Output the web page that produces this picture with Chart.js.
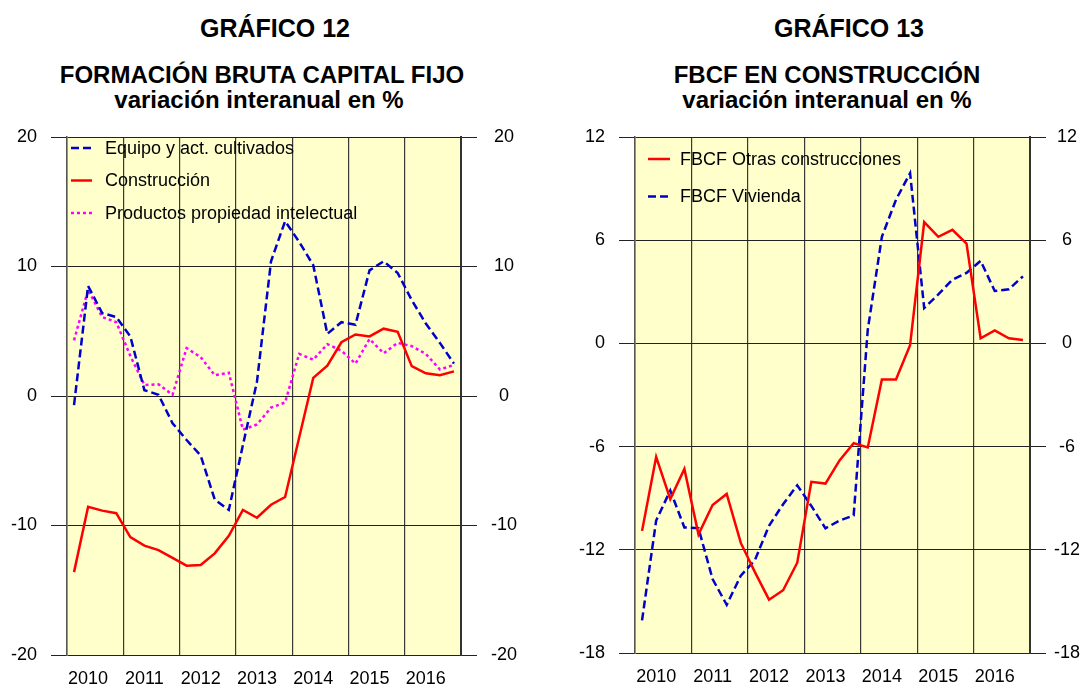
<!DOCTYPE html>
<html lang="es">
<head>
<meta charset="utf-8">
<title>Gráficos 12 y 13 - FBCF</title>
<script src="https://cdn.jsdelivr.net/npm/chart.js@4.4.1/dist/chart.umd.min.js"></script>
<style>
  html, body { margin: 0; padding: 0; background: #fff; }
  body { width: 1089px; height: 689px; position: relative; overflow: hidden;
         font-family: 'Liberation Sans', Arial, sans-serif; }
  .caja { position: absolute; top: 0; height: 689px; }
  #caja12 { left: 0; width: 545px; }
  #caja13 { left: 545px; width: 544px; }
  .linea { position: absolute; width: 600px; text-align: center; font-weight: bold;
           color: #000; white-space: nowrap; }
  .grande { font-size: 25px; line-height: 25px; }
  .media { font-size: 24px; line-height: 24px; }
</style>
</head>
<body>

<div class="linea grande" style="left:-25px; top:16px;">GRÁFICO 12</div>
<div class="linea media" style="left:-38px; top:63px;">FORMACIÓN BRUTA CAPITAL FIJO</div>
<div class="linea media" style="left:-41px; top:88px;">variación interanual en %</div>

<div class="linea grande" style="left:549px; top:16px;">GRÁFICO 13</div>
<div class="linea media" style="left:527px; top:63px;">FBCF EN CONSTRUCCIÓN</div>
<div class="linea media" style="left:527px; top:88px;">variación interanual en %</div>

<div class="caja" id="caja12"><canvas id="graf12"></canvas></div>
<div class="caja" id="caja13"><canvas id="graf13"></canvas></div>

<script>
// años y trimestres (2010 T1 - 2016 T4)
var anios = ['2010', '2011', '2012', '2013', '2014', '2015', '2016'];
var trimestres = [];
anios.forEach(function (a) {
  ['I', 'II', 'III', 'IV'].forEach(function (q) { trimestres.push(a + ' ' + q); });
});

// Gráfico 12: FBCF, variación interanual en %
var equipo = [-0.7, 8.5, 6.4, 6.1, 4.6, 0.45, 0.1, -2.1, -3.4, -4.6, -8.0, -8.8,
              -3.8, 1.1, 10.4, 13.5, 11.9, 10.1, 4.8, 5.7, 5.5, 9.7, 10.4, 9.5,
              7.4, 5.6, 4.1, 2.5];
var construccion = [-13.6, -8.55, -8.85, -9.05, -10.9, -11.55, -11.9, -12.5, -13.1, -13.05, -12.15, -10.8,
                    -8.8, -9.4, -8.4, -7.8, -3.2, 1.4, 2.35, 4.15, 4.75, 4.6, 5.2, 4.95,
                    2.3, 1.75, 1.6, 1.9];
var intelectual = [4.3, 8.2, 6.1, 5.7, 3.1, 0.85, 0.9, 0.1, 3.7, 3.0, 1.6, 1.8,
                   -2.6, -2.2, -0.9, -0.5, 3.25, 2.8, 4.0, 3.5, 2.5, 4.4, 3.3, 4.1,
                   3.85, 3.25, 2.05, 2.4];
var ticks12 = { min: -20, max: 20, paso: 10 };

// Gráfico 13: FBCF en construcción
var otrasConstr = [-10.9, -6.6, -9.05, -7.3, -11.1, -9.4, -8.75, -11.6, -13.3, -14.9, -14.35, -12.75,
                   -8.05, -8.15, -6.8, -5.8, -6.05, -2.1, -2.1, -0.1, 7.05, 6.2, 6.6, 5.8,
                   0.3, 0.75, 0.3, 0.2];
var vivienda = [-16.1, -10.3, -8.55, -10.7, -10.75, -13.7, -15.2, -13.5, -12.6, -10.6, -9.35, -8.25,
                -9.45, -10.75, -10.3, -10.0, 0.8, 6.2, 8.35, 9.9, 2.05, 2.85, 3.7, 4.1,
                4.8, 3.05, 3.15, 3.9];
var ticks13 = { min: -18, max: 12, paso: 6 };

var FUENTE = "'Liberation Sans', Arial, sans-serif";

// fondo amarillo del area de trazado
var fondoAmarillo = {
  id: 'fondoAmarillo',
  beforeDraw: function (chart) {
    var a = chart.chartArea, ctx = chart.ctx;
    ctx.save();
    ctx.fillStyle = '#FFFFCC';
    ctx.fillRect(a.left, a.top, a.right - a.left, a.bottom - a.top);
    ctx.restore();
  }
};

// leyenda dentro del grafico, arriba a la izquierda
var leyendaInterior = {
  id: 'leyendaInterior',
  afterDatasetsDraw: function (chart, args, opts) {
    var ctx = chart.ctx;
    ctx.save();
    chart.data.datasets.forEach(function (ds, i) {
      var y = opts.y + i * opts.salto;
      ctx.strokeStyle = ds.borderColor;
      ctx.lineWidth = ds.borderWidth;
      ctx.setLineDash(ds.borderDash || []);
      ctx.beginPath();
      ctx.moveTo(opts.x, y);
      ctx.lineTo(opts.x + opts.largo, y);
      ctx.stroke();
      ctx.setLineDash([]);
      ctx.fillStyle = '#000';
      ctx.font = '18px ' + FUENTE;
      ctx.textBaseline = 'middle';
      ctx.textAlign = 'left';
      ctx.fillText(ds.label, opts.xTexto, y + 1);
    });
    ctx.restore();
  }
};

var serie = function (label, data, color, dash) {
  return {
    label: label, data: data, borderColor: color, backgroundColor: color,
    borderWidth: 2.5, borderDash: dash, pointRadius: 0, tension: 0,
    fill: false, yAxisID: 'y'
  };
};

var opcionesGrafico = function (t, cfg) {
  var fuenteTicks = { family: FUENTE, size: 18 };
  return {
    responsive: false,
    animation: false,
    layout: { padding: { top: 137, left: 0, right: 0, bottom: 0 } },
    plugins: {
      legend: { display: false },
      tooltip: { enabled: false },
      leyendaInterior: cfg.leyenda
    },
    scales: {
      x: {
        type: 'category',
        offset: true,
        grid: {
          offset: true,
          drawTicks: false,
          color: function (c) { return c.index % 4 === 0 ? '#3a3a3a' : 'rgba(0,0,0,0)'; },
          lineWidth: 1.2
        },
        border: { display: false },
        ticks: {
          autoSkip: false, maxRotation: 0, minRotation: 0, padding: 13,
          color: '#000', font: fuenteTicks,
          callback: function (v, i) { return i % 4 === 1 ? anios[(i - 1) / 4] : ''; }
        },
        afterFit: function (s) { s.height = cfg.altoX; }
      },
      y: {
        position: 'left', min: t.min, max: t.max,
        ticks: { stepSize: t.paso, padding: 14, color: '#000', font: fuenteTicks },
        grid: { color: '#222', lineWidth: 1, drawTicks: true, tickLength: 16, tickColor: '#222' },
        border: { display: true, color: '#555', width: 1.5 },
        afterFit: function (s) { s.width = cfg.anchoIzq; }
      },
      y2: {
        position: 'right', min: t.min, max: t.max,
        ticks: { stepSize: t.paso, padding: cfg.padDer, crossAlign: 'center', color: '#000', font: fuenteTicks },
        grid: { drawOnChartArea: false, drawTicks: true, tickLength: 16, tickColor: '#222' },
        border: { display: true, color: '#333', width: 2 },
        afterFit: function (s) { s.width = cfg.anchoDer; }
      }
    }
  };
};

var c12 = document.getElementById('graf12');
c12.width = 545; c12.height = 689;
new Chart(c12, {
  type: 'line',
  data: {
    labels: trimestres,
    datasets: [
      serie('Equipo y act. cultivados', equipo, '#0000CC', [8, 4]),
      serie('Construcción', construccion, '#FF0000', []),
      serie('Productos propiedad intelectual', intelectual, '#FF00FF', [3, 3])
    ]
  },
  options: opcionesGrafico(ticks12, {
    anchoIzq: 67, anchoDer: 84, padDer: 14, altoX: 34,
    leyenda: { x: 71, largo: 21, xTexto: 105, y: 148, salto: 32.5 }
  }),
  plugins: [fondoAmarillo, leyendaInterior]
});

var c13 = document.getElementById('graf13');
c13.width = 544; c13.height = 689;
new Chart(c13, {
  type: 'line',
  data: {
    labels: trimestres,
    datasets: [
      serie('FBCF Otras construcciones', otrasConstr, '#FF0000', []),
      serie('FBCF Vivienda', vivienda, '#0000CC', [8, 4])
    ]
  },
  options: opcionesGrafico(ticks13, {
    anchoIzq: 90, anchoDer: 59, padDer: 8, altoX: 36,
    leyenda: { x: 103, largo: 22, xTexto: 135, y: 159, salto: 37.5 }
  }),
  plugins: [fondoAmarillo, leyendaInterior]
});
</script>
</body>
</html>
